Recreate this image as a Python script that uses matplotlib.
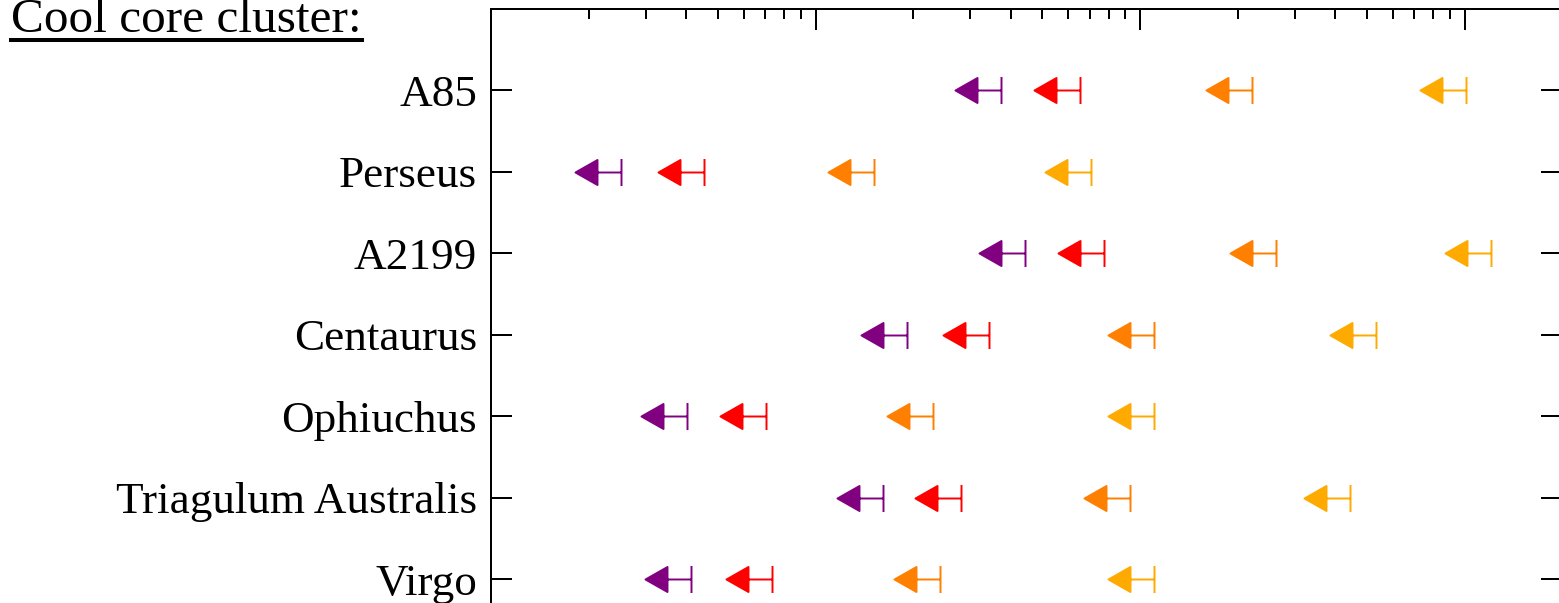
import matplotlib
matplotlib.use("Agg")
import matplotlib.pyplot as plt
from matplotlib.path import Path
from matplotlib.markers import MarkerStyle
from matplotlib.lines import Line2D
from matplotlib.ticker import NullLocator

plt.rcParams['font.family'] = ['Liberation Serif', 'DejaVu Serif']

clusters = ["A85", "Perseus", "A2199", "Centaurus", "Ophiuchus",
            "Triagulum Australis", "Virgo"]

# upper limits (one list per colour)
limits_purple = [37.2, 2.52, 44.2, 19.1, 4.02, 16.1, 4.12]
limits_red = [65.3, 4.53, 77.5, 34.3, 7.04, 28.1, 7.34]
limits_orange = [221, 15.1, 262, 110.7, 23.1, 93.1, 24.2]
limits_amber = [1009, 70.5, 1209, 534, 110.7, 444, 110.7]

series = [limits_purple, limits_red, limits_orange, limits_amber]
colors = ["#800080", "#ff0000", "#ff8000", "#ffaa00"]

# upper-limit marker: cap at the value, bar and arrow head to the left (pixel units)
verts = [(0, -13.5), (0, 13.5),
         (0, 0), (-24, 0),
         (-24, 12.5), (-46, 0), (-24, -12.5), (-24, 12.5)]
codes = [Path.MOVETO, Path.LINETO,
         Path.MOVETO, Path.LINETO,
         Path.MOVETO, Path.LINETO, Path.LINETO, Path.CLOSEPOLY]
ulim = MarkerStyle(Path(verts, codes))
ms = 2 * 46 * 0.72

W, H = 1559, 603
fig = plt.figure(figsize=(W / 100, H / 100), dpi=100)
top_px, bottom_px = 9, 660.7
ax = fig.add_axes([491 / W, (H - bottom_px) / H,
                   (1562.2 - 491) / W, (bottom_px - top_px) / H])

y = list(range(len(clusters)))
for vals, c in zip(series, colors):
    ax.plot(vals, y, ls='none', marker=ulim, ms=ms, color=c,
            mec=c, mfc=c, mew=1.4)

ax.set_xscale('log')
ax.set_xlim(1, 2000)
ax.set_ylim(len(clusters), -1)
ax.set_yticks(y)
ax.set_yticklabels(clusters)
ax.yaxis.set_minor_locator(NullLocator())

ax.tick_params(axis='both', which='both', direction='in', top=True,
               right=True, width=1.44, color='black')
ax.tick_params(which='major', length=15)
ax.tick_params(which='minor', length=7.2)
ax.tick_params(axis='y', pad=10, labelsize=32.5)
ax.tick_params(axis='x', labelbottom=False)
for s in ax.spines.values():
    s.set_linewidth(1.44)

title = fig.text(11 / W, 1 - 32 / H, "Cool core cluster:", fontsize=35.5,
                 ha='left', va='baseline')
fig.canvas.draw()
bb = title.get_window_extent()
fig.add_artist(Line2D([bb.x0 / W, bb.x1 / W], [1 - 40 / H, 1 - 40 / H],
                      transform=fig.transFigure, color='black', lw=2.9))

fig.savefig("out.png", dpi=100)
